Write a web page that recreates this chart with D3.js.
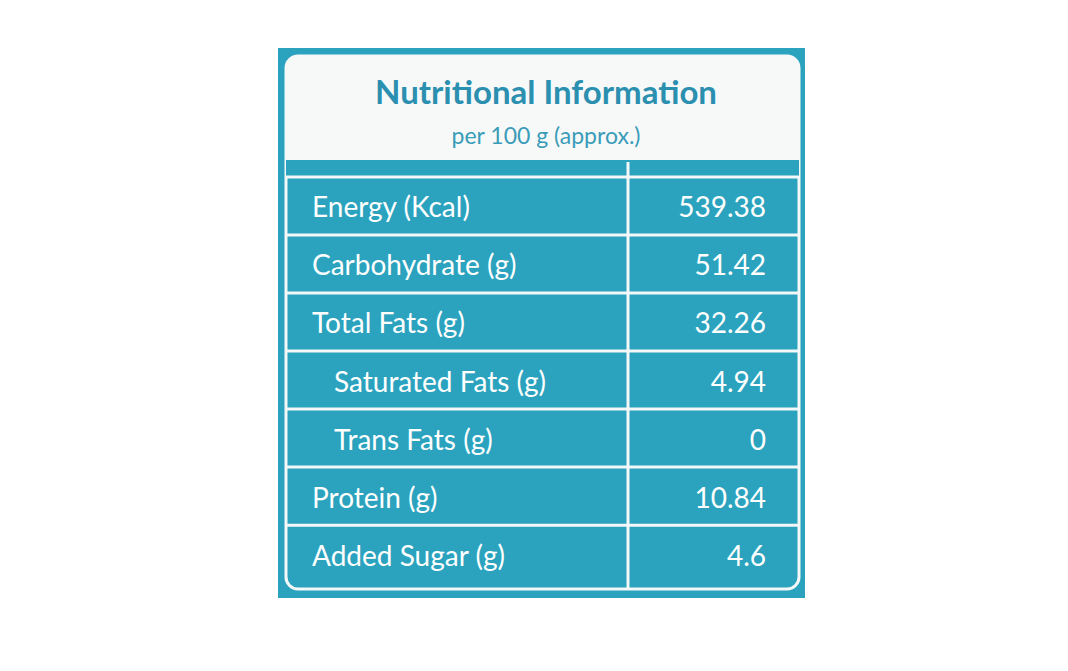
<!DOCTYPE html>
<html><head><meta charset="utf-8">
<script src="https://cdn.jsdelivr.net/npm/d3@7"></script>
<style>body{margin:0;background:#fff}</style>
</head><body>
<svg id="chart" width="1068" height="671"></svg>
<script>
// data
const nutrients = ["Energy (Kcal)", "Carbohydrate (g)", "Total Fats (g)", "Saturated Fats (g)", "Trans Fats (g)", "Protein (g)", "Added Sugar (g)"];
const amounts = ["539.38", "51.42", "32.26", "4.94", "0", "10.84", "4.6"];
const indented = [false, false, false, true, true, false, false];

const teal = "#2ba3be";
const svg = d3.select("#chart");

// background panel
svg.append("rect").attr("x", 278).attr("y", 48).attr("width", 527).attr("height", 550).attr("fill", teal);

// white outline around everything
svg.append("rect").attr("x", 286).attr("y", 56).attr("width", 513).attr("height", 533)
    .attr("rx", 12).attr("fill", "none").attr("stroke", "#f4f8f8").attr("stroke-width", 3);

// white header
svg.append("path")
    .attr("d", "M286,160 L286,68 Q286,56 298,56 L787,56 Q799,56 799,68 L799,160 Z")
    .attr("fill", "#f7f9f9");

svg.append("text").attr("x", 546).attr("y", 104).attr("text-anchor", "middle")
    .attr("font-family", "Lato, 'Open Sans', sans-serif").attr("font-weight", "bold")
    .attr("font-size", 33).attr("fill", "#2b8fb0").text("Nutritional Information");
svg.append("text").attr("x", 546).attr("y", 144).attr("text-anchor", "middle")
    .attr("font-family", "Lato, 'Open Sans', sans-serif")
    .attr("font-size", 23).attr("fill", "#3a9cb8").text("per 100 g (approx.)");

// white strip under header
svg.append("rect").attr("x", 286).attr("y", 160).attr("width", 513).attr("height", 18).attr("fill", teal);

// table rows
const y = d3.scaleBand().domain(nutrients).range([179, 584]).paddingInner(0.02);

const rows = svg.append("g").selectAll("g").data(nutrients).join("g");

rows.append("line")
    .attr("x1", 286).attr("x2", 799)
    .attr("y1", d => y(d) - 2).attr("y2", d => y(d) - 2)
    .attr("stroke", "#f4f8f8").attr("stroke-width", 3);

rows.append("text")
    .attr("x", (d, i) => indented[i] ? 334 : 312)
    .attr("y", d => y(d) + y.bandwidth() / 2 + 10)
    .attr("font-family", "Lato, 'Open Sans', sans-serif").attr("font-size", 28)
    .attr("fill", "#fff").text(d => d);

rows.append("text")
    .attr("x", 766)
    .attr("y", d => y(d) + y.bandwidth() / 2 + 10)
    .attr("text-anchor", "end")
    .attr("font-family", "Lato, 'Open Sans', sans-serif").attr("font-size", 28)
    .attr("fill", "#fff").text((d, i) => amounts[i]);

// column divider
svg.append("line").attr("x1", 628).attr("x2", 628).attr("y1", 162).attr("y2", 589)
    .attr("stroke", "#f4f8f8").attr("stroke-width", 3);
</script>
</body></html>
